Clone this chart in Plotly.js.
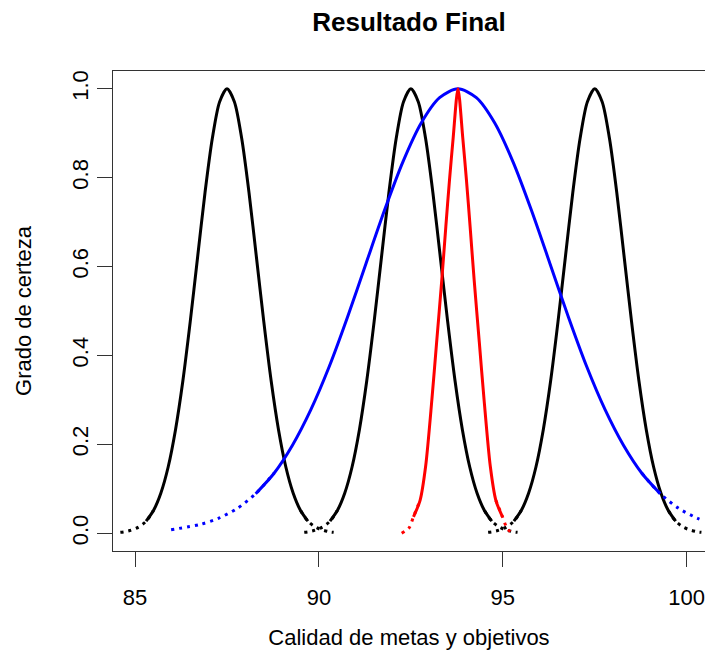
<!DOCTYPE html>
<html>
<head>
<meta charset="utf-8">
<script src="https://cdn.plot.ly/plotly-3.0.1.min.js"></script>
<style>
  html, body { margin: 0; padding: 0; background: #ffffff; }
  #chart { width: 705px; height: 650px; }
</style>
</head>
<body>
<div id="chart"></div>
<script>
// Membership curves: "Grado de certeza" against "Calidad de metas y objetivos"

// Three black reference sets, centred at 87.5, 92.5 and 97.5 (same bell shape)
const bellY = [0.002, 0.003, 0.007, 0.014, 0.027, 0.051, 0.090, 0.149, 0.233, 0.343, 0.476,
               0.621, 0.765, 0.888, 0.971, 1.000, 0.971, 0.888, 0.765, 0.621, 0.476, 0.343,
               0.233, 0.149, 0.090, 0.051, 0.027, 0.014, 0.007, 0.003, 0.002];

const lowX  = [84.6, 84.7, 84.9, 85.1, 85.3, 85.5, 85.7, 85.9, 86.1, 86.3, 86.5,
               86.7, 86.9, 87.1, 87.3, 87.5, 87.7, 87.9, 88.1, 88.3, 88.5, 88.7,
               88.9, 89.1, 89.3, 89.5, 89.7, 89.9, 90.1, 90.3, 90.4];
const midX  = [89.6, 89.7, 89.9, 90.1, 90.3, 90.5, 90.7, 90.9, 91.1, 91.3, 91.5,
               91.7, 91.9, 92.1, 92.3, 92.5, 92.7, 92.9, 93.1, 93.3, 93.5, 93.7,
               93.9, 94.1, 94.3, 94.5, 94.7, 94.9, 95.1, 95.3, 95.4];
const highX = [94.6, 94.7, 94.9, 95.1, 95.3, 95.5, 95.7, 95.9, 96.1, 96.3, 96.5,
               96.7, 96.9, 97.1, 97.3, 97.5, 97.7, 97.9, 98.1, 98.3, 98.5, 98.7,
               98.9, 99.1, 99.3, 99.5, 99.7, 99.9, 100.1, 100.3, 100.4];

// Blue: broad result curve
const blueX = [85.98, 86.78, 87.28, 87.78, 88.28, 88.78, 89.28, 89.78, 90.28, 90.78, 91.28,
               91.78, 92.28, 92.78, 93.28, 93.78, 94.28, 94.78, 95.28, 95.78, 96.28, 96.78,
               97.28, 97.78, 98.28, 98.78, 99.28, 99.78, 100.28, 100.44];
const blueY = [0.008, 0.020, 0.034, 0.056, 0.089, 0.135, 0.198, 0.278, 0.375, 0.487, 0.607,
               0.726, 0.835, 0.923, 0.980, 1.000, 0.980, 0.923, 0.835, 0.726, 0.607, 0.487,
               0.375, 0.278, 0.198, 0.135, 0.089, 0.056, 0.034, 0.029];

// Red: narrow final result
const redX = [92.25, 92.45, 92.57, 92.75, 92.90, 93.07, 93.20, 93.34, 93.45, 93.55, 93.65,
              93.78, 93.91, 94.01, 94.11, 94.22, 94.36, 94.49, 94.66, 94.81, 94.99, 95.11, 95.24];
const redY = [0.000, 0.012, 0.037, 0.074, 0.150, 0.300, 0.430, 0.570, 0.690, 0.795, 0.890,
              1.000, 0.890, 0.795, 0.690, 0.570, 0.430, 0.300, 0.150, 0.074, 0.037, 0.012, 0.000];

const xTicks = [85, 90, 95, 100];
const yTicks = [0, 0.2, 0.4, 0.6, 0.8, 1.0];
const yTickText = ['0.0', '0.2', '0.4', '0.6', '0.8', '1.0'];

// Each curve: solid body, sparse dotted tails near zero
function curveTraces(xs, ys, color, cut) {
  const body = ys.map((v, i) => (v >= cut || ys[i - 1] >= cut || ys[i + 1] >= cut) ? v : null);
  const tail = ys.map((v, i) => (v < cut || ys[i - 1] < cut || ys[i + 1] < cut) ? v : null);
  const common = { type: 'scatter', mode: 'lines', x: xs, hoverinfo: 'skip', showlegend: false, connectgaps: false };
  return [
    Object.assign({}, common, { y: tail, line: { color: color, width: 3, dash: '3px,5px', shape: 'spline', smoothing: 0.8 } }),
    Object.assign({}, common, { y: body, line: { color: color, width: 3, shape: 'spline', smoothing: 0.8 } })
  ];
}

const data = [].concat(
  curveTraces(lowX, bellY, '#000000', 0.03),
  curveTraces(midX, bellY, '#000000', 0.03),
  curveTraces(highX, bellY, '#000000', 0.03),
  curveTraces(blueX, blueY, '#0000ff', 0.1),
  curveTraces(redX, redY, '#ff0000', 0.05)
);

const FONT = 'Liberation Sans, Arial, sans-serif';

const layout = {
  width: 705,
  height: 650,
  margin: { l: 113, r: 0, t: 71, b: 99 },
  paper_bgcolor: '#ffffff',
  plot_bgcolor: '#ffffff',
  font: { family: FONT, color: '#000000', size: 22 },
  title: {
    text: '<b>Resultado Final</b>',
    font: { family: FONT, size: 26, color: '#000000' },
    x: 0.5, xref: 'paper', xanchor: 'center',
    y: 1 - 22 / 650, yref: 'container', yanchor: 'middle'
  },
  xaxis: {
    range: [84.4, 100.497],
    tickvals: xTicks,
    ticks: 'outside', ticklen: 15, tickwidth: 1, tickcolor: '#333333',
    ticklabelstandoff: 12,
    ticklabeloverflow: 'allow',
    tickfont: { family: FONT, size: 22, color: '#000000' },
    showline: true, linecolor: '#333333', linewidth: 1, mirror: true,
    showgrid: false, zeroline: false,
    title: { text: 'Calidad de metas y objetivos', font: { family: FONT, size: 22, color: '#000000' }, standoff: 30 },
    automargin: false
  },
  yaxis: {
    range: [-0.04, 1.04],
    tickvals: yTicks, ticktext: yTickText, tickangle: -90,
    ticks: 'outside', ticklen: 15, tickwidth: 1, tickcolor: '#333333',
    ticklabelstandoff: 0,
    tickfont: { family: FONT, size: 22, color: '#000000' },
    showline: true, linecolor: '#333333', linewidth: 1, mirror: false,
    showgrid: false, zeroline: false,
    title: { text: 'Grado de certeza', font: { family: FONT, size: 22, color: '#000000' }, standoff: 30 },
    automargin: false
  }
};

Plotly.newPlot('chart', data, layout, { displayModeBar: false, staticPlot: true });
</script>
</body>
</html>
